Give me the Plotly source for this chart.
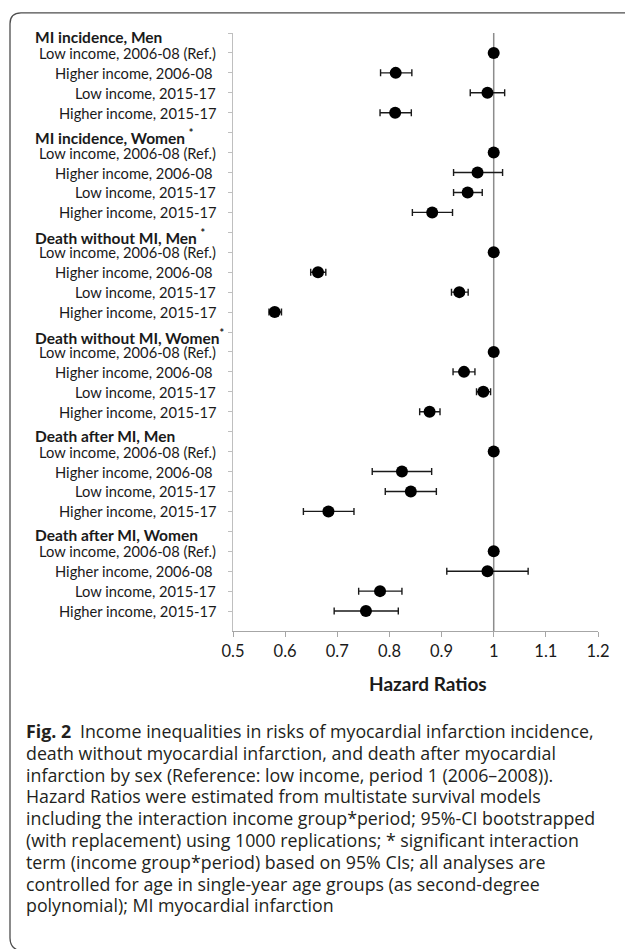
import plotly.graph_objects as go

# Outcome groups (an asterisk marks a significant income*period interaction)
groups = [
    "MI incidence, Men",
    "MI incidence, Women *",
    "Death without MI, Men *",
    "Death without MI, Women*",
    "Death after MI, Men",
    "Death after MI, Women",
]
row_labels = [
    "Low income, 2006-08 (Ref.)",
    "Higher income, 2006-08\u00a0",
    "Low income, 2015-17",
    "Higher income, 2015-17",
]

# Hazard ratios and bootstrapped 95% CIs, one list per group, rows as above
hr = [
    [1.0, 0.812, 0.988, 0.811],
    [1.0, 0.969, 0.950, 0.882],
    [1.0, 0.663, 0.934, 0.580],
    [1.0, 0.943, 0.980, 0.877],
    [1.0, 0.824, 0.841, 0.683],
    [1.0, 0.988, 0.782, 0.755],
]
ci_low = [
    [1.0, 0.783, 0.955, 0.782],
    [1.0, 0.923, 0.923, 0.844],
    [1.0, 0.649, 0.919, 0.569],
    [1.0, 0.922, 0.967, 0.858],
    [1.0, 0.767, 0.792, 0.635],
    [1.0, 0.910, 0.741, 0.694],
]
ci_high = [
    [1.0, 0.843, 1.021, 0.842],
    [1.0, 1.017, 0.978, 0.921],
    [1.0, 0.678, 0.951, 0.593],
    [1.0, 0.964, 0.994, 0.897],
    [1.0, 0.881, 0.890, 0.732],
    [1.0, 1.066, 0.824, 0.817],
]

x_ticks = [0.5, 0.6, 0.7, 0.8, 0.9, 1.0, 1.1, 1.2]
x_ticktext = ["0.5", "0.6", "0.7", "0.8", "0.9", "1", "1.1", "1.2"]
x_title = "Hazard Ratios"

caption_lines = [
    "<b>Fig. 2</b>\u2002Income inequalities in risks of myocardial infarction incidence,",
    "death without myocardial infarction, and death after myocardial",
    "infarction by sex (Reference: low income, period 1 (2006\u20132008)).",
    "Hazard Ratios were estimated from multistate survival models",
    "including the interaction income group*period; 95%-CI bootstrapped",
    "(with replacement) using 1000 replications; * significant interaction",
    "term (income group*period) based on 95% CIs; all analyses are",
    "controlled for age in single-year age groups (as second-degree",
    "polynomial); MI myocardial infarction",
]

W, H = 625, 949
ML, MR, MT, MB = 233, 27, 33, 318
PW, PH = W - ML - MR, H - MT - MB

def px2x(px):
    return (px - ML) / PW

def px2y(py):
    return (H - MB - py) / PH

n_rows = len(groups) * (len(row_labels) + 1)
FONT = "Lato, Carlito, sans-serif"
TXT = "#1a1a1a"

# axis title goes first (centred, so its placement does not depend on text width)
annotations = [dict(
    xref="paper", yref="paper", x=px2x(428), y=px2y(683),
    xanchor="center", yanchor="middle", showarrow=False,
    text=x_title,
    font=dict(family=FONT, size=19, color=TXT, weight="bold"),
)]

ys, xs, elo, ehi = [], [], [], []
for g, name in enumerate(groups):
    y_head = n_rows - g * (len(row_labels) + 1)
    annotations.append(dict(
        xref="paper", yref="y", x=px2x(34), y=y_head, yshift=-4,
        xanchor="left", yanchor="middle", showarrow=False,
        width=205, align="left", borderpad=0,
        text=name.replace("*", "<sup>*</sup>"),
        font=dict(family=FONT, size=15.5, color=TXT, weight="bold"),
    ))
    for k, lab in enumerate(row_labels):
        y = y_head - 1 - k
        annotations.append(dict(
            xref="paper", yref="y", x=px2x(218), y=y,
            xanchor="right", yanchor="middle", showarrow=False,
            text=lab, font=dict(family=FONT, size=14.7, color=TXT),
        ))
        ys.append(y)
        xs.append(hr[g][k])
        elo.append(hr[g][k] - ci_low[g][k])
        ehi.append(ci_high[g][k] - hr[g][k])

fig = go.Figure()
fig.add_trace(go.Scatter(
    x=xs, y=ys, mode="markers",
    marker=dict(color="black", size=12, line=dict(width=0)),
    error_x=dict(type="data", symmetric=False, array=ehi, arrayminus=elo,
                 color="#1a1a1a", thickness=1.4, width=3.5),
    showlegend=False, cliponaxis=False,
))

# reference line at HR = 1
fig.add_shape(type="line", xref="x", yref="paper", x0=1, x1=1, y0=0, y1=1,
              line=dict(color="#8c8c8c", width=1.5), layer="below")

# caption
for i, line in enumerate(caption_lines):
    annotations.append(dict(
        xref="paper", yref="paper", x=px2x(24), y=px2y(731 + 21.8 * i),
        xanchor="left", yanchor="middle", showarrow=False, text=line,
        font=dict(family="Open Sans, sans-serif", size=17.8, color="#231f20"),
    ))

# frame around the figure panel (rounded corners on the left)
def P(px, py):
    return f"{px2x(px):.5f},{px2y(py):.5f}"

frame = (f"M {P(640, 12.8)} L {P(21, 12.8)} Q {P(10, 12.8)} {P(10, 23.8)} "
         f"L {P(10, 938)} Q {P(10, 949)} {P(21, 951)}")
fig.add_shape(type="path", xref="paper", yref="paper", path=frame,
              line=dict(color="#4d4d4d", width=1.3))

fig.update_layout(
    width=W, height=H,
    margin=dict(l=ML, r=MR, t=MT, b=MB),
    paper_bgcolor="white", plot_bgcolor="white",
    annotations=annotations,
    xaxis=dict(range=[0.5, 1.2], tickvals=x_ticks, ticktext=x_ticktext,
               ticks="outside", ticklen=5, tickcolor="#a6a6a6", tickwidth=1,
               showline=True, linecolor="#a6a6a6", linewidth=1,
               showgrid=False, zeroline=False,
               tickfont=dict(family=FONT, size=16.5, color=TXT)),
    yaxis=dict(range=[0, n_rows], tickvals=list(range(1, n_rows + 1)),
               showticklabels=False, ticks="outside", ticklen=4,
               tickcolor="#bfbfbf", tickwidth=1,
               showline=True, linecolor="#bfbfbf", linewidth=1,
               showgrid=False, zeroline=False),
)

fig.write_html("out.html")
